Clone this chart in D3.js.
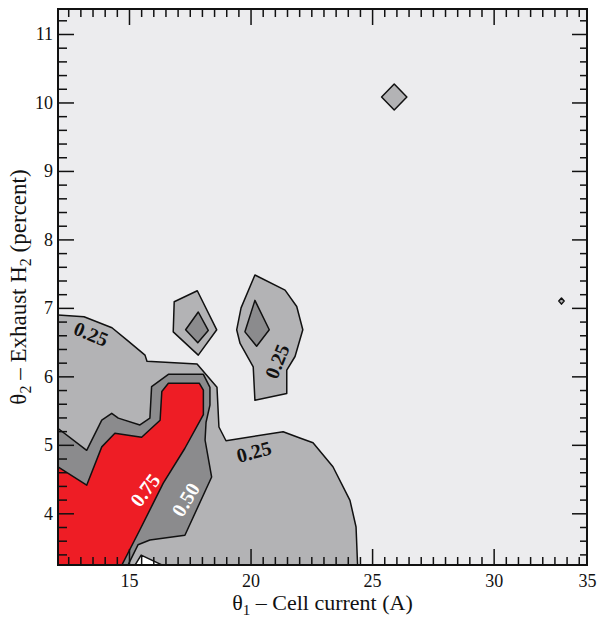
<!DOCTYPE html>
<html>
<head>
<meta charset="utf-8">
<script src="https://cdn.jsdelivr.net/npm/d3@7"></script>
<style>
  body { margin: 0; background: #fff; }
  svg text { font-family: "Liberation Serif", "Times New Roman", serif; }
</style>
</head>
<body>
<svg id="chart" width="598" height="617"></svg>
<script>
// Axis extents: θ1 cell current (A), θ2 exhaust H2 (percent)
const xDomain = [12.08, 33.84];
const yDomain = [3.245, 11.365];
const xMajorTicks = [15, 20, 25, 30];
const xEndLabel = "35";
const yMajorTicks = [4, 5, 6, 7, 8, 9, 10, 11];

// Contour levels of the response surface
const contourLevels = [0.25, 0.50, 0.75];

// Regions at or above 0.25, as [θ1, θ2] outlines
const above025Main = [[11.9, 6.90], [13.15, 6.87], [14.30, 6.71], [14.92, 6.53], [15.66, 6.31], [15.74, 6.22],
  [17.80, 6.18], [18.62, 5.84], [18.70, 5.26], [18.99, 5.06], [21.34, 5.19], [22.03, 5.10], [22.57, 5.03],
  [23.39, 4.68], [24.09, 4.19], [24.34, 3.80], [24.42, 3.10], [11.9, 3.10]];
const above025Left = [[16.86, 7.09], [17.81, 7.25], [18.61, 6.68], [17.85, 6.31], [16.82, 6.65]];
const above025Right = [[20.18, 7.48], [21.42, 7.26], [21.90, 7.02], [22.15, 6.68], [21.83, 6.29], [21.49, 6.09],
  [21.49, 5.75], [20.18, 5.65], [20.11, 6.14], [19.57, 6.48], [19.43, 6.68], [19.61, 7.00]];
const above025Peak = [[25.91, 10.27], [26.43, 10.08], [25.91, 9.89], [25.39, 10.08]];
const above025Spot = [[32.79, 7.145], [32.90, 7.10], [32.79, 7.055], [32.68, 7.10]];

// Regions at or above 0.50
const above050Main = [[11.9, 5.29], [13.26, 4.92], [13.88, 5.36], [14.29, 5.46], [14.56, 5.39], [15.45, 5.29],
  [15.86, 5.39], [15.93, 5.85], [16.62, 6.03], [18.06, 6.03], [18.33, 5.84], [18.33, 5.58], [18.17, 5.33],
  [18.13, 5.07], [18.40, 4.53], [17.30, 3.68], [15.86, 3.61], [15.37, 3.54], [14.76, 3.10], [11.9, 3.10]];
const above050Left = [[17.85, 6.94], [18.26, 6.67], [17.83, 6.49], [17.33, 6.68]];
const above050Right = [[20.18, 7.11], [20.77, 6.68], [20.25, 6.44], [19.77, 6.65]];

// Region at or above 0.75
const above075Main = [[11.9, 4.72], [13.26, 4.41], [13.88, 4.97], [14.42, 5.17], [15.52, 5.11], [16.28, 5.36],
  [16.35, 5.78], [16.62, 5.90], [17.89, 5.90], [18.06, 5.80], [18.06, 5.44], [17.30, 4.95], [16.41, 4.44],
  [15.45, 3.76], [14.50, 3.10], [11.9, 3.10]];

// Low pocket along the lower edge
const lowPocket = [[15.0, 3.10], [15.50, 3.39], [17.22, 3.10]];

// Contour labels: text and anchor point [θ1, θ2]
const labelTexts = ["0.25", "0.25", "0.25", "0.75", "0.50"];
const labelAnchors = [[13.44, 6.62], [20.14, 4.90], [21.09, 6.22], [15.66, 4.34], [17.33, 4.20]];

// ---- drawing ----
const svg = d3.select("#chart");
const plotLeft = 58, plotRight = 587, plotTop = 9, plotBottom = 565;

const x = d3.scaleLinear().domain(xDomain).range([plotLeft, plotRight]);
const y = d3.scaleLinear().domain(yDomain).range([plotBottom, plotTop]);

const fills = { low: "#ffffff", base: "#ececee", l025: "#b3b3b5", l050: "#8b8b8d", l075: "#ee1d25" };

svg.append("rect").attr("x", plotLeft).attr("y", plotTop)
  .attr("width", plotRight - plotLeft).attr("height", plotBottom - plotTop)
  .attr("fill", fills.base);

svg.append("defs").append("clipPath").attr("id", "plot-clip")
  .append("rect").attr("x", plotLeft).attr("y", plotTop)
  .attr("width", plotRight - plotLeft).attr("height", plotBottom - plotTop);

const plot = svg.append("g").attr("clip-path", "url(#plot-clip)");
const outline = d3.line().x(d => x(d[0])).y(d => y(d[1])).curve(d3.curveLinearClosed);

const layers = [
  { fill: fills.l025, shapes: [above025Main, above025Left, above025Right, above025Peak, above025Spot] },
  { fill: fills.l050, shapes: [above050Main, above050Left, above050Right] },
  { fill: fills.l075, shapes: [above075Main] },
  { fill: fills.low, shapes: [lowPocket] }
];

layers.forEach(layer => {
  plot.append("g").selectAll("path").data(layer.shapes).join("path")
    .attr("d", outline)
    .attr("fill", layer.fill)
    .attr("stroke", "#111")
    .attr("stroke-width", 1.5)
    .attr("stroke-linejoin", "round");
});

// contour labels
const labelAngles = [22, -15, -68, -53, -59];
const labelColors = ["#111", "#111", "#111", "#fff", "#fff"];
svg.append("g").selectAll("text").data(labelTexts).join("text")
  .attr("transform", (d, i) => `translate(${x(labelAnchors[i][0])},${y(labelAnchors[i][1])}) rotate(${labelAngles[i]})`)
  .attr("text-anchor", "middle")
  .attr("dominant-baseline", "central")
  .attr("font-size", 20)
  .attr("font-weight", "bold")
  .attr("fill", (d, i) => labelColors[i])
  .text(d => d);

// ---- axes with inward ticks on all four sides ----
const xMinor = d3.range(12.5, 33.9, 0.5).filter(v => !xMajorTicks.includes(v));
const yMinor = d3.range(3.4, 11.3, 0.2).map(v => +v.toFixed(1)).filter(v => Math.abs(v - Math.round(v)) > 1e-6);

function styleAxis(g) {
  g.select(".domain").remove();
  g.selectAll(".tick line").attr("stroke", "#111").attr("stroke-width", 1.5);
  g.selectAll(".tick text").attr("font-size", 18).attr("fill", "#111")
    .style("font-family", "'Liberation Serif', 'Times New Roman', serif");
}

const xLabelTicks = [...xMajorTicks, xDomain[1]];
svg.append("g").attr("transform", `translate(0,${plotBottom})`)
  .call(d3.axisBottom(x).tickValues(xLabelTicks)
    .tickFormat((d, i) => i < xMajorTicks.length ? String(d) : xEndLabel)
    .tickSizeInner(-16).tickSizeOuter(0).tickPadding(9))
  .call(styleAxis)
  .call(g => g.selectAll(".tick").filter((d, i) => i >= xMajorTicks.length).select("line").remove());
svg.append("g").attr("transform", `translate(0,${plotBottom})`)
  .call(d3.axisBottom(x).tickValues(xMinor).tickFormat("").tickSizeInner(-8).tickSizeOuter(0))
  .call(styleAxis);
svg.append("g").attr("transform", `translate(0,${plotTop})`)
  .call(d3.axisTop(x).tickValues(xMajorTicks).tickFormat("").tickSizeInner(-16).tickSizeOuter(0))
  .call(styleAxis);
svg.append("g").attr("transform", `translate(0,${plotTop})`)
  .call(d3.axisTop(x).tickValues(xMinor).tickFormat("").tickSizeInner(-8).tickSizeOuter(0))
  .call(styleAxis);

svg.append("g").attr("transform", `translate(${plotLeft},0)`)
  .call(d3.axisLeft(y).tickValues(yMajorTicks).tickSizeInner(-16).tickSizeOuter(0).tickPadding(5))
  .call(styleAxis);
svg.append("g").attr("transform", `translate(${plotLeft},0)`)
  .call(d3.axisLeft(y).tickValues(yMinor).tickFormat("").tickSizeInner(-9).tickSizeOuter(0))
  .call(styleAxis);
svg.append("g").attr("transform", `translate(${plotRight},0)`)
  .call(d3.axisRight(y).tickValues(yMajorTicks).tickFormat("").tickSizeInner(-15).tickSizeOuter(0))
  .call(styleAxis);
svg.append("g").attr("transform", `translate(${plotRight},0)`)
  .call(d3.axisRight(y).tickValues(yMinor).tickFormat("").tickSizeInner(-7).tickSizeOuter(0))
  .call(styleAxis);

// frame
svg.append("rect").attr("x", plotLeft).attr("y", plotTop)
  .attr("width", plotRight - plotLeft).attr("height", plotBottom - plotTop)
  .attr("fill", "none").attr("stroke", "#111").attr("stroke-width", 2);

// axis titles
const xTitle = svg.append("text").attr("x", (plotLeft + plotRight) / 2).attr("y", 610)
  .attr("text-anchor", "middle").attr("font-size", 22).attr("fill", "#111");
xTitle.append("tspan").text("θ");
xTitle.append("tspan").attr("font-size", 15).attr("dy", 5).text("1");
xTitle.append("tspan").attr("dy", -5).text(" – Cell current (A)");

const yTitle = svg.append("text").attr("transform", `translate(26,${(plotTop + plotBottom) / 2}) rotate(-90)`)
  .attr("text-anchor", "middle").attr("font-size", 23).attr("fill", "#111");
yTitle.append("tspan").text("θ");
yTitle.append("tspan").attr("font-size", 16).attr("dy", 5).text("2");
yTitle.append("tspan").attr("dy", -5).text(" – Exhaust H");
yTitle.append("tspan").attr("font-size", 16).attr("dy", 5).text("2");
yTitle.append("tspan").attr("dy", -5).text(" (percent)");
</script>
</body>
</html>
